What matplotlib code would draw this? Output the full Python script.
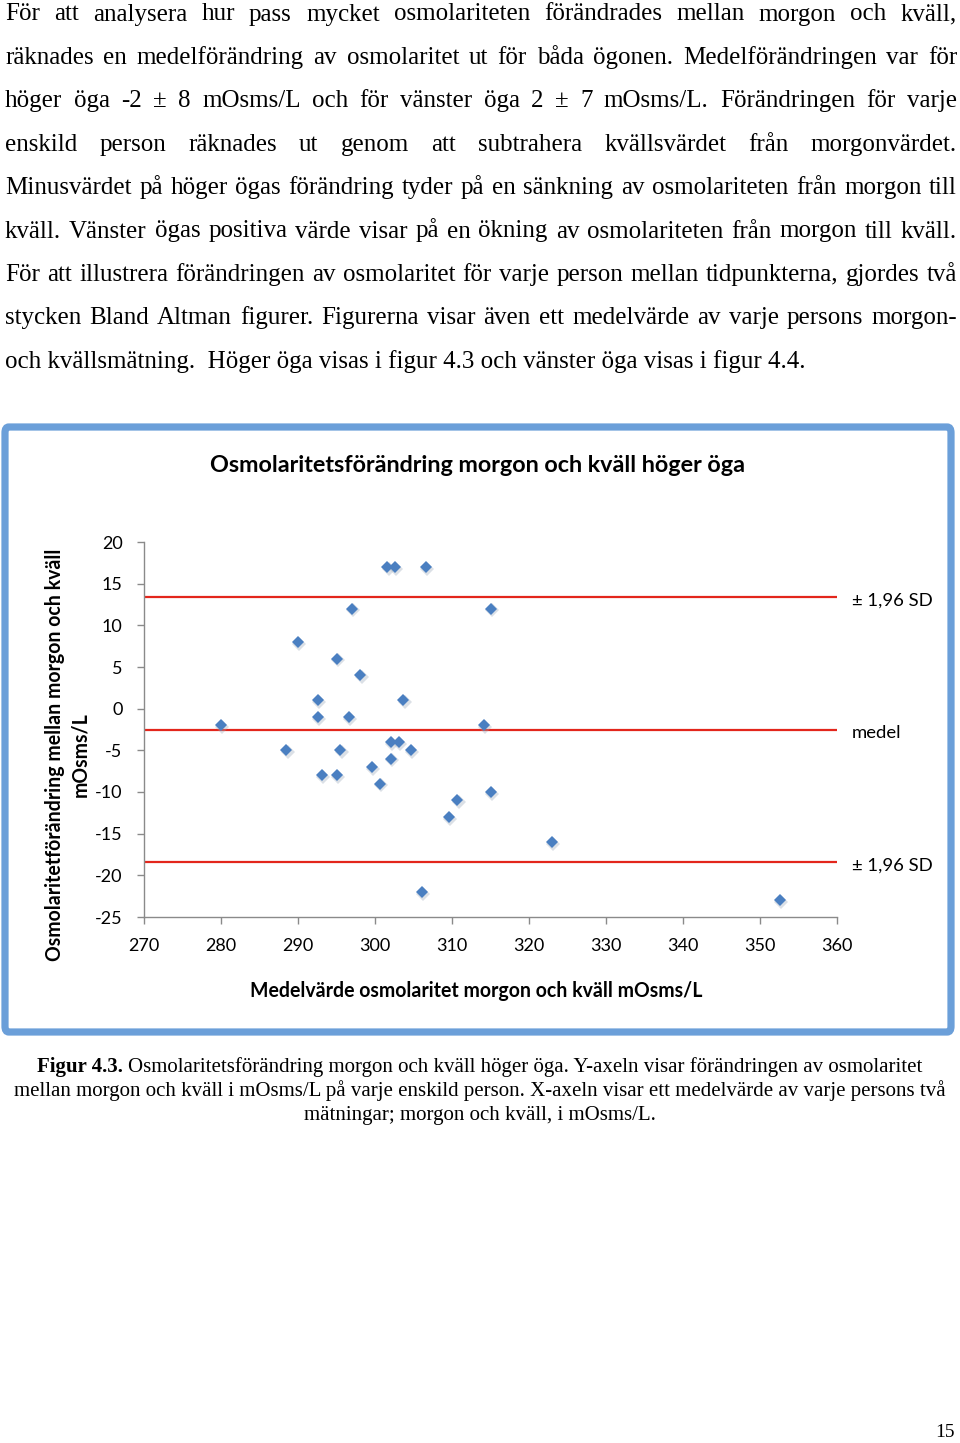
import numpy as np
import matplotlib
matplotlib.use('Agg')
import matplotlib.pyplot as plt
import matplotlib.transforms as mtransforms
from matplotlib.patches import FancyBboxPatch

plt.rcParams['axes.unicode_minus'] = False

#Page size in pixels
W, H = 960, 1443

#Values (right eye)
medel_x = [301.6, 302.6, 306.6, 297.0, 315.1, 290.0, 295.1, 298.1, 292.6, 303.7,
           292.6, 296.6, 280.0, 314.1, 288.5, 295.5, 304.7, 302.1, 303.1, 302.1,
           299.6, 293.1, 295.1, 300.6, 310.7, 315.1, 309.6, 323.0, 352.6, 306.1]
diff_y = [17, 17, 17, 12, 12, 8, 6, 4, 1, 1,
          -1, -1, -2, -2, -5, -5, -5, -4, -4, -6,
          -7, -8, -8, -9, -11, -10, -13, -16, -23, -22]
mean_line = -2.55
sd_upper = 13.35
sd_lower = -18.45
line_labels = ['± 1,96 SD', 'medel', '± 1,96 SD']
x_ticks = list(range(270, 361, 10))
y_ticks = list(range(-25, 21, 5))

title = 'Osmolaritetsförändring morgon och kväll höger öga'
xlabel = 'Medelvärde osmolaritet morgon och kväll mOsms/L'
ylabel1 = 'Osmolaritetförändring mellan morgon och kväll'
ylabel2 = 'mOsms/L'

para_lines = [
    'För att analysera hur pass mycket osmolariteten förändrades mellan morgon och kväll,',
    'räknades en medelförändring av osmolaritet ut för båda ögonen. Medelförändringen var för',
    'höger öga -2 ± 8 mOsms/L och för vänster öga 2 ± 7 mOsms/L. Förändringen för varje',
    'enskild person räknades ut genom att subtrahera kvällsvärdet från morgonvärdet.',
    'Minusvärdet på höger ögas förändring tyder på en sänkning av osmolariteten från morgon till',
    'kväll. Vänster ögas positiva värde visar på en ökning av osmolariteten från morgon till kväll.',
    'För att illustrera förändringen av osmolaritet för varje person mellan tidpunkterna, gjordes två',
    'stycken Bland Altman figurer. Figurerna visar även ett medelvärde av varje persons morgon-',
    'och kvällsmätning.  Höger öga visas i figur 4.3 och vänster öga visas i figur 4.4.',
]
cap_bold = 'Figur 4.3.'
cap_lines = [
    'Osmolaritetsförändring morgon och kväll höger öga. Y-axeln visar förändringen av osmolaritet',
    'mellan morgon och kväll i mOsms/L på varje enskild person. X-axeln visar ett medelvärde av varje persons två',
    'mätningar; morgon och kväll, i mOsms/L.',
]

SERIF = 'Liberation Serif'
SANS = 'Lato'

fig = plt.figure(figsize=(W / 100, H / 100), dpi=100)
fig.patch.set_facecolor('white')
renderer = fig.canvas.get_renderer()

#Convert pixel positions (from top left) to figure fractions
def fx(x):
    return x / W

def fy(y):
    return 1 - y / H

#Width of a string in pixels
def text_w(s, **kw):
    t = fig.text(0, 0, s, **kw)
    w = t.get_window_extent(renderer).width
    t.remove()
    return w

#Font size giving a string a target width
def fit_size(s, target, base=14, **kw):
    return base * target / text_w(s, fontsize=base, **kw)

#Body text, justified between x=5 and x=957
body_size = fit_size(para_lines[-1], 805, family=SERIF)
left, right = 5, 957
for i, line in enumerate(para_lines):
    base = 20.5 + 43.4 * i
    if i == len(para_lines) - 1:
        fig.text(fx(left), fy(base), line, family=SERIF, fontsize=body_size,
                 ha='left', va='baseline')
        continue
    words = line.split(' ')
    ws = [text_w(w, family=SERIF, fontsize=body_size) for w in words]
    gap = (right - left - sum(ws)) / (len(words) - 1)
    x = left
    for w, wd in zip(words, ws):
        fig.text(fx(x), fy(base), w, family=SERIF, fontsize=body_size,
                 ha='left', va='baseline')
        x += wd + gap

#Blue frame round the chart
frame = FancyBboxPatch((fx(5), fy(1032)), (951 - 5) / W, (1032 - 427) / H,
                       boxstyle='round,pad=0,rounding_size=0.004',
                       transform=fig.transFigure, fill=False,
                       ec='#6b9fd9', lw=5.2)
fig.add_artist(frame)

#Chart title and axis labels
fig.text(fx(478), fy(465), title, family=SANS, weight='bold',
         fontsize=fit_size(title, 540, family=SANS, weight='bold'),
         ha='center', va='center')
fig.text(fx(476), fy(991), xlabel, family=SANS, weight='bold',
         fontsize=fit_size(xlabel, 454, family=SANS, weight='bold'),
         ha='center', va='center')
ysize = fit_size(ylabel1, 414, family=SANS, weight='bold')
fig.text(fx(55), fy(755), ylabel1, family=SANS, weight='bold', fontsize=ysize,
         rotation=90, ha='center', va='center')
fig.text(fx(80), fy(755), ylabel2, family=SANS, weight='bold', fontsize=ysize,
         rotation=90, ha='center', va='center')

#Axes
ax = fig.add_axes([fx(144), fy(917), (837 - 144) / W, (917 - 542) / H])
ax.set_xlim(270, 360)
ax.set_ylim(-25, 20)
ax.set_xticks(x_ticks)
ax.set_yticks(y_ticks)
for side in ['top', 'right']:
    ax.spines[side].set_visible(False)
for side in ['left', 'bottom']:
    ax.spines[side].set_color('#8a8a8a')
    ax.spines[side].set_linewidth(1.0)
ax.tick_params(axis='both', direction='out', length=5, width=1.0, color='#8a8a8a',
               labelsize=13)
ax.tick_params(axis='y', pad=10.5)
ax.tick_params(axis='x', pad=10)
for lab in ax.get_xticklabels() + ax.get_yticklabels():
    lab.set_family(SANS)

#Mean and limits of agreement
for val in [sd_upper, mean_line, sd_lower]:
    ax.axhline(val, color='#e3261c', lw=1.6, zorder=2)
trans = mtransforms.blended_transform_factory(ax.transAxes, ax.transData)
for val, lab in zip([sd_upper, mean_line, sd_lower], line_labels):
    ax.text(1.0216, val - 0.35, lab, transform=trans, family=SANS, fontsize=13.3,
            ha='left', va='center')

#Points with a soft shadow
shadow = mtransforms.offset_copy(ax.transData, fig=fig, x=1.2, y=-1.8, units='dots')
ax.plot(medel_x, diff_y, 'D', color='#9aa8b8', alpha=0.35, ms=7.2, mew=0,
        transform=shadow, zorder=3, clip_on=False)
ax.plot(medel_x, diff_y, 'D', color='#4a7fc1', ms=6.6, mew=0, zorder=4, clip_on=False)

#Caption below the chart
cap_size = fit_size(cap_lines[1], 934, family=SERIF)
space = text_w('a b', family=SERIF, fontsize=cap_size) - text_w('ab', family=SERIF, fontsize=cap_size)
wb = text_w(cap_bold, family=SERIF, fontsize=cap_size, weight='bold')
wr = text_w(cap_lines[0], family=SERIF, fontsize=cap_size)
x0 = 480 - (wb + space + wr) / 2
fig.text(fx(x0), fy(1072), cap_bold, family=SERIF, fontsize=cap_size, weight='bold',
         ha='left', va='baseline')
fig.text(fx(x0 + wb + space), fy(1072), cap_lines[0], family=SERIF, fontsize=cap_size,
         ha='left', va='baseline')
for i, line in enumerate(cap_lines[1:]):
    fig.text(0.5, fy(1096 + 24 * i), line, family=SERIF, fontsize=cap_size,
             ha='center', va='baseline')

#Page number
fig.text(fx(955), fy(1441), '15', family=SERIF, fontsize=14, ha='right', va='bottom')

fig.savefig('out.png', dpi=100)
